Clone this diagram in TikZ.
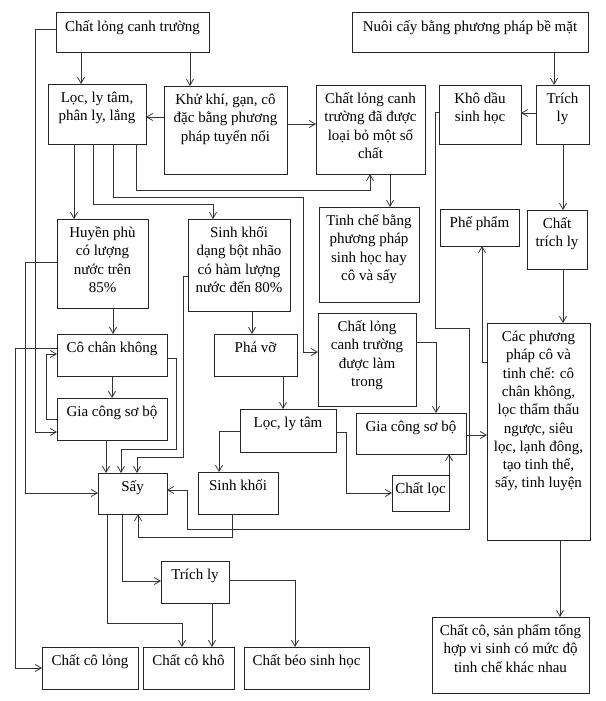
\documentclass[tikz,border=0pt]{standalone}
\usepackage{fontspec}
\setmainfont{Liberation Serif}
\usetikzlibrary{arrows.meta}
\newcommand\flowbox[6]{%
 \pgfmathsetmacro\fbw{#4-#2}%
 \pgfmathsetmacro\fbh{#5-#3}%
 \pgfmathsetmacro\fbx{(#2+#4)/2}%
 \pgfmathsetmacro\fby{(#3+#5)/2}%
 \node[box,minimum width=\fbw pt,minimum height=\fbh pt] (#1) at (\fbx,\fby)
 {\parbox[c][\fbh pt][t]{\fbw pt}{\centering\rule{0pt}{18.5pt}#6}};}
\tikzset{
 box/.style={draw=black!85,line width=1pt,inner sep=0pt,outer sep=0pt,font=\fontsize{15}{18.3}\selectfont},
 arr/.style={draw=black!80,line width=0.8pt,-{Straight Barb[length=6pt,width=7pt]}}
}
\begin{document}
\begin{tikzpicture}[x=1pt,y=-1pt]
\useasboundingbox[fill=white] (0,0) rectangle (605,701);
\flowbox{A}{56}{13}{209}{53}{Chất lỏng canh trường}
\flowbox{B}{48}{84}{146}{144}{Lọc, ly tâm,\\ phân ly, lắng}
\flowbox{C}{164}{86}{287}{174}{Khử khí, gạn, cô\\ đặc bằng phương\\ pháp tuyển nổi}
\flowbox{D}{352}{13}{588}{53}{Nuôi cấy bằng phương pháp bề mặt}
\flowbox{E}{316}{85}{425}{174}{Chất lỏng canh\\ trường đã được\\ loại bỏ một số\\ chất}
\flowbox{F}{439}{85}{521}{144}{Khô dầu\\ sinh học}
\flowbox{G}{536}{85}{589}{144}{Trích\\ ly}
\flowbox{H}{57}{219}{148}{308}{Huyền phù\\ có lượng\\ nước trên\\ 85\%}
\flowbox{I}{188}{219}{290}{311}{Sinh khối\\ dạng bột nhão\\ có hàm lượng\\ nước đến 80\%}
\flowbox{Q}{319}{207}{419}{302}{Tinh chế bằng\\ phương pháp\\ sinh học hay\\ cô và sấy}
\flowbox{R}{440}{209}{519}{246}{Phế phẩm}
\flowbox{S}{527}{210}{587}{269}{Chất\\ trích ly}
\flowbox{J}{57}{334}{167}{376}{Cô chân không}
\flowbox{K}{57}{398}{167}{440}{Gia công sơ bộ}
\flowbox{L}{214}{334}{297}{376}{Phá vỡ}
\flowbox{P}{318}{313}{416}{406}{Chất lỏng\\ canh trường\\ được làm\\ trong}
\flowbox{T}{487}{323}{590}{540}{Các phương\\ pháp cô và\\ tinh chế: cô\\ chân không,\\ lọc thẩm thấu\\ ngược, siêu\\ lọc, lạnh đông,\\ tạo tinh thể,\\ sấy, tinh luyện}
\flowbox{M}{240}{409}{336}{452}{Lọc, ly tâm}
\flowbox{U}{356}{413}{466}{454}{Gia công sơ bộ}
\flowbox{O}{98}{473}{167}{514}{Sấy}
\flowbox{N}{198}{472}{278}{514}{Sinh khối}
\flowbox{V}{392}{475}{449}{511}{Chất lọc}
\flowbox{X}{161}{561}{229}{603}{Trích ly}
\flowbox{Y}{42}{647}{138}{689}{Chất cô lỏng}
\flowbox{Z}{143}{647}{234}{689}{Chất cô khô}
\flowbox{AA}{244}{647}{369}{689}{Chất béo sinh học}
\flowbox{W}{432}{617}{589}{693}{Chất cô, sản phẩm tổng\\ hợp vi sinh có mức độ\\ tinh chế khác nhau}
% connectors
\draw[arr] (A.south -| 81,0) -- (B.north -| 81,0);
\draw[arr] (A.south -| 190,0) -- (C.north -| 190,0);
\draw[arr] (D.south -| 554,0) -- (G.north -| 554,0);
\draw[arr] (G.west |- 0,113) -- (F.east |- 0,113);
\draw[arr] (C.west |- 0,117) -- (B.east |- 0,117);
\draw[arr] (C.east |- 0,124) -- (E.west |- 0,124);
\draw[arr] (A.west |- 0,29) -- (35,29) -- (35,432) -- (K.west |- 0,432);
\draw[arr] (B.south -| 74,0) -- (H.north -| 74,0);
\draw[arr] (B.south -| 93,0) -- (93,204) -- (213,204) -- (I.north -| 213,0);
\draw[arr] (B.south -| 113,0) -- (113,197) -- (303,197) -- (303,352) -- (P.west |- 0,352);
\draw[arr] (B.south -| 136,0) -- (136,190) -- (370,190) -- (E.south -| 370,0);
\draw[arr] (E.south -| 390,0) -- (Q.north -| 390,0);
\draw[arr] (H.south -| 113,0) -- (J.north -| 113,0);
\draw[arr] (J.south -| 112,0) -- (K.north -| 112,0);
\draw[arr] (K.west |- 0,419) -- (46,419) -- (46,354) -- (J.west |- 0,354);
\draw[arr] (H.west |- 0,262) -- (25,262) -- (25,493) -- (O.west |- 0,493);
\draw[arr] (J.west |- 0,348) -- (15,348) -- (15,668) -- (Y.west |- 0,668);
\draw[arr] (I.south -| 252,0) -- (L.north -| 252,0);
\draw[arr] (L.south -| 283,0) -- (M.north -| 283,0);
\draw[arr] (M.west |- 0,431) -- (219,431) -- (N.north -| 219,0);
\draw[arr] (M.east |- 0,432) -- (346,432) -- (346,493) -- (V.west |- 0,493);
\draw[arr] (V.north -| 449,0) -- (U.south -| 449,0);
\draw[arr] (P.east |- 0,342) -- (436,342) -- (U.north -| 436,0);
\draw[arr] (U.east |- 0,435) -- (T.west |- 0,435);
\draw[arr] (K.south -| 106,0) -- (O.north -| 106,0);
\draw[arr] (J.east |- 0,358) -- (176,358) -- (176,449) -- (121,449) -- (O.north -| 121,0);
\draw[arr] (I.west |- 0,276) -- (183,276) -- (183,457) -- (137,457) -- (O.north -| 137,0);
\draw[arr] (N.south -| 232,0) -- (232,537) -- (138,537) -- (O.south -| 138,0);
\draw[arr] (F.west |- 0,112) -- (435,112) -- (435,328) -- (469,328) -- (469,529) -- (187,529) -- (187,490) -- (O.east |- 0,490);
\draw[arr] (T.west |- 0,362) -- (482,362) -- (R.south -| 482,0);
\draw[arr] (G.south -| 563,0) -- (S.north -| 563,0);
\draw[arr] (S.south -| 563,0) -- (T.north -| 563,0);
\draw[arr] (T.south -| 560,0) -- (W.north -| 560,0);
\draw[arr] (O.south -| 122,0) -- (122,581) -- (X.west |- 0,581);
\draw[arr] (O.south -| 107,0) -- (107,623) -- (182,623) -- (Z.north -| 182,0);
\draw[arr] (X.south -| 212,0) -- (Z.north -| 212,0);
\draw[arr] (X.east |- 0,580) -- (295,580) -- (AA.north -| 295,0);
\end{tikzpicture}
\end{document}
